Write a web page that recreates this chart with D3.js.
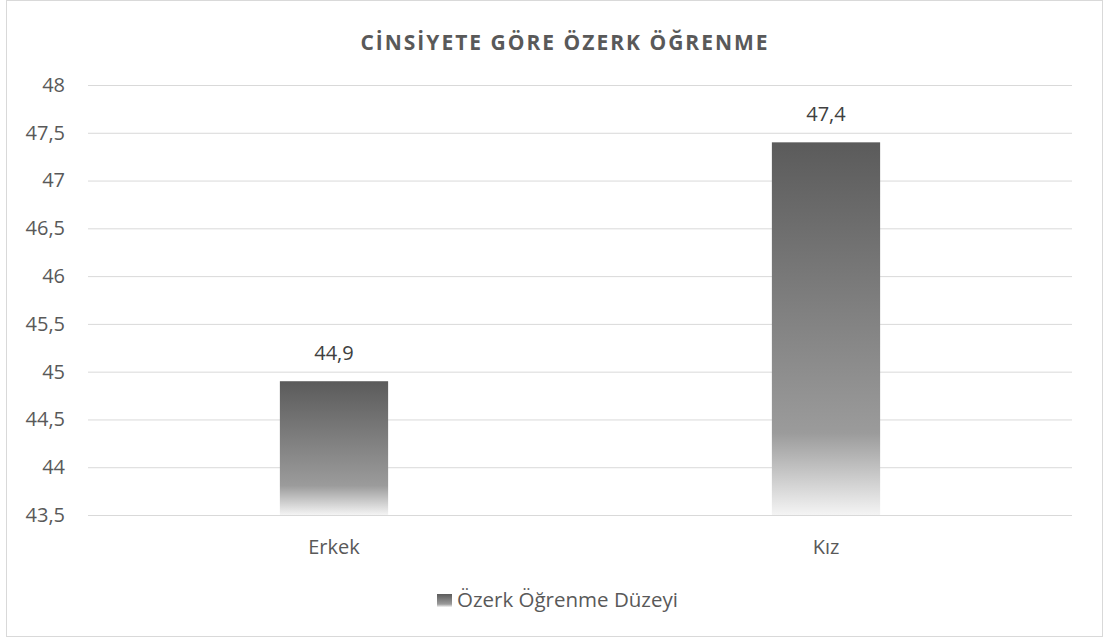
<!DOCTYPE html>
<html>
<head>
<meta charset="utf-8">
<script src="https://cdn.jsdelivr.net/npm/d3@7"></script>
<style>
  body { margin: 0; background: #fff; }
  svg text { font-family: "Open Sans", sans-serif; }
</style>
</head>
<body>
<div id="chart"></div>
<script>
// Chart data
const categories = ["Erkek", "Kız"];
const values = [44.9, 47.4];
const tickValues = [43.5, 44, 44.5, 45, 45.5, 46, 46.5, 47, 47.5, 48];
const seriesName = "Özerk Öğrenme Düzeyi";
const title = "CİNSİYETE GÖRE ÖZERK ÖĞRENME";

const width = 1107, height = 641;
const margin = { top: 85, right: 35, bottom: 126, left: 88 };

const svg = d3.select("#chart")
    .append("svg")
    .attr("width", width)
    .attr("height", height);

// Gradient fill like the original
const defs = svg.append("defs");
const grad = defs.append("linearGradient")
    .attr("id", "barGrad")
    .attr("x1", 0).attr("y1", 0).attr("x2", 0).attr("y2", 1);
grad.append("stop").attr("offset", "0%").attr("stop-color", "#5b5b5b");
grad.append("stop").attr("offset", "78%").attr("stop-color", "#9b9b9b");
grad.append("stop").attr("offset", "100%").attr("stop-color", "#f4f4f4");

// chart frame
svg.append("rect")
    .attr("x", 6.5).attr("y", 0.5)
    .attr("width", 1096).attr("height", 636)
    .attr("fill", "#fff")
    .attr("stroke", "#d9d9d9");

const x = d3.scaleBand()
    .domain(categories)
    .range([margin.left, width - margin.right])
    .paddingInner(0.78)
    .paddingOuter(0.39);

const y = d3.scaleLinear()
    .domain([43.5, 48])
    .range([height - margin.bottom, margin.top]);

const fmt = d => String(d).replace(".", ",");

// gridlines
const yAxis = d3.axisLeft(y)
    .tickValues(tickValues)
    .tickSize(-(width - margin.left - margin.right))
    .tickPadding(23)
    .tickFormat(fmt);

const gy = svg.append("g")
    .attr("transform", `translate(${margin.left},0)`)
    .call(yAxis);
gy.select(".domain").remove();
gy.selectAll(".tick line").attr("stroke", "#d9d9d9").attr("stroke-width", 1);
gy.selectAll(".tick text")
    .attr("fill", "#595959")
    .style("font-size", "20px");

// bars
svg.selectAll(".bar")
    .data(values)
    .enter()
    .append("rect")
    .attr("class", "bar")
    .attr("x", (d, i) => x(categories[i]))
    .attr("width", x.bandwidth())
    .attr("y", d => y(d))
    .attr("height", d => y(43.5) - y(d))
    .attr("fill", "url(#barGrad)");

// baseline over bars
svg.append("line")
    .attr("x1", margin.left).attr("x2", width - margin.right)
    .attr("y1", y(43.5) + 0.5).attr("y2", y(43.5) + 0.5)
    .attr("stroke", "#d9d9d9");

// data labels
svg.selectAll(".lbl")
    .data(values)
    .enter()
    .append("text")
    .attr("x", (d, i) => x(categories[i]) + x.bandwidth() / 2)
    .attr("y", d => y(d) - 21)
    .attr("text-anchor", "middle")
    .attr("fill", "#404040")
    .style("font-size", "20px")
    .text(d => fmt(d));

// x axis labels
const xAxis = d3.axisBottom(x).tickSize(0).tickPadding(25);
const gx = svg.append("g")
    .attr("transform", `translate(0,${y(43.5)})`)
    .call(xAxis);
gx.select(".domain").remove();
gx.selectAll(".tick text")
    .attr("fill", "#595959")
    .style("font-size", "20px");

// title
svg.append("text")
    .attr("x", 565)
    .attr("y", 50)
    .attr("text-anchor", "middle")
    .attr("fill", "#595959")
    .style("font-size", "21px")
    .style("font-weight", "bold")
    .style("letter-spacing", "2px")
    .text(title);

// legend
const legend = svg.append("g").attr("transform", "translate(437,594)");
legend.append("rect")
    .attr("width", 15).attr("height", 13)
    .attr("fill", "url(#barGrad)");
legend.append("text")
    .attr("x", 20).attr("y", 13)
    .attr("fill", "#595959")
    .style("font-size", "20.5px")
    .text(seriesName);
</script>
</body>
</html>
